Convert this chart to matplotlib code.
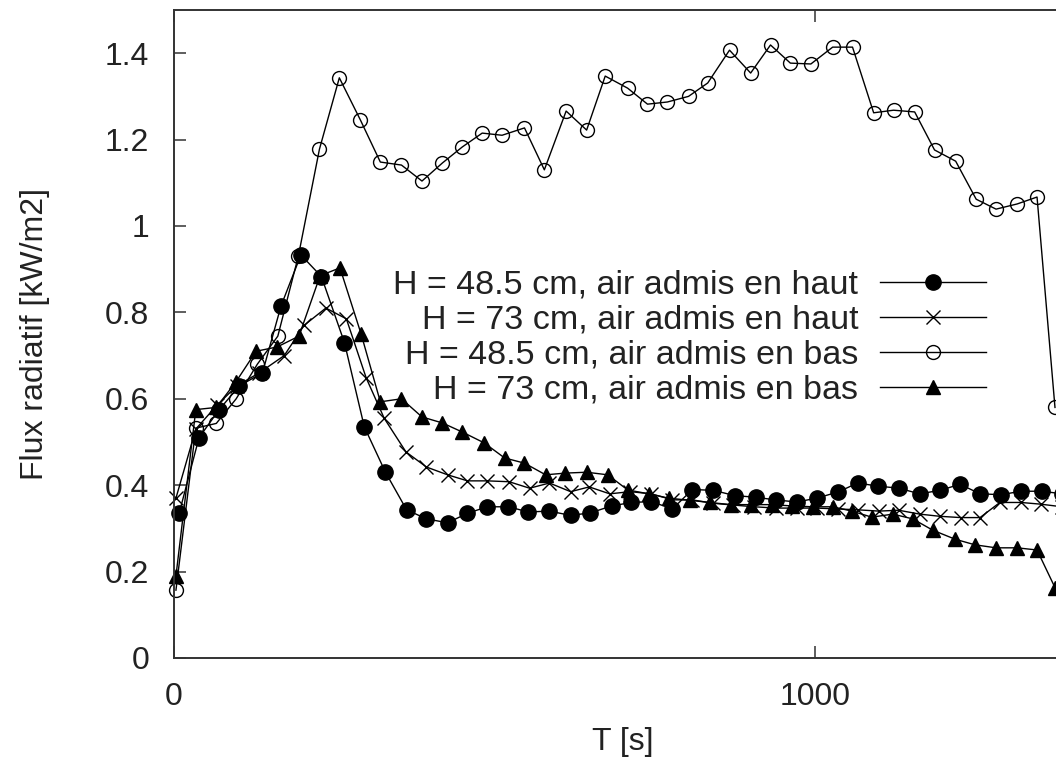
import matplotlib
matplotlib.use('Agg')
import matplotlib.pyplot as plt

plt.rcParams['font.family'] = ['Liberation Sans', 'DejaVu Sans']

# H = 48.5 cm, air admis en haut
t_h48 = [8, 39, 70, 102, 138, 167, 198, 230, 266, 297, 330, 363, 394, 427, 458,
         489, 522, 553, 586, 619, 650, 683, 714, 745, 778, 809, 842, 875, 908, 939,
         972, 1003, 1036, 1067, 1098, 1131, 1164, 1195, 1227, 1258, 1291, 1322, 1355, 1386]
q_h48 = [0.335, 0.51, 0.574, 0.63, 0.66, 0.815, 0.933, 0.883, 0.73, 0.535, 0.43, 0.343,
         0.322, 0.313, 0.335, 0.35, 0.35, 0.338, 0.34, 0.33, 0.336, 0.352, 0.36, 0.362,
         0.345, 0.39, 0.388, 0.376, 0.372, 0.366, 0.361, 0.37, 0.384, 0.405, 0.398, 0.393,
         0.38, 0.388, 0.402, 0.38, 0.378, 0.386, 0.386, 0.38]

# H = 73 cm, air admis en haut
t_h73 = [3, 34, 67, 98, 133, 172, 203, 237, 269, 300, 328, 362, 394, 427, 458,
         489, 523, 555, 586, 619, 648, 680, 712, 745, 778, 809, 842, 873, 906, 939,
         972, 1003, 1036, 1067, 1100, 1131, 1164, 1195, 1228, 1258, 1289, 1322, 1353, 1386]
q_h73 = [0.37, 0.53, 0.585, 0.63, 0.66, 0.70, 0.77, 0.81, 0.785, 0.648, 0.555, 0.477,
         0.442, 0.424, 0.41, 0.41, 0.408, 0.393, 0.405, 0.385, 0.396, 0.38, 0.385, 0.38,
         0.366, 0.366, 0.358, 0.354, 0.35, 0.347, 0.347, 0.347, 0.345, 0.343, 0.34, 0.342,
         0.333, 0.328, 0.325, 0.325, 0.36, 0.36, 0.356, 0.35]

# H = 48.5 cm, air admis en bas
t_b48 = [3, 34, 66, 97, 130, 162, 194, 227, 258, 291, 322, 355, 387, 419, 450,
         481, 512, 547, 578, 612, 644, 673, 708, 739, 770, 803, 833, 867, 900, 931,
         962, 994, 1028, 1059, 1092, 1123, 1156, 1187, 1220, 1252, 1283, 1316, 1347, 1375]
q_b48 = [0.157, 0.532, 0.543, 0.60, 0.68, 0.745, 0.93, 1.178, 1.343, 1.245, 1.148, 1.141,
         1.104, 1.146, 1.183, 1.215, 1.21, 1.227, 1.13, 1.266, 1.222, 1.347, 1.319, 1.282,
         1.287, 1.30, 1.331, 1.407, 1.354, 1.419, 1.377, 1.375, 1.414, 1.414, 1.262, 1.268,
         1.264, 1.176, 1.15, 1.062, 1.039, 1.051, 1.067, 0.58]

# H = 73 cm, air admis en bas
t_b73 = [3, 34, 66, 97, 128, 161, 195, 228, 259, 292, 322, 355, 387, 419, 450,
         484, 516, 547, 580, 611, 644, 677, 708, 741, 772, 805, 836, 869, 900, 933,
         964, 997, 1028, 1058, 1089, 1122, 1153, 1184, 1219, 1250, 1283, 1316, 1347, 1375]
q_b73 = [0.19, 0.575, 0.58, 0.64, 0.71, 0.72, 0.745, 0.885, 0.903, 0.75, 0.593, 0.60,
         0.558, 0.544, 0.523, 0.498, 0.463, 0.451, 0.424, 0.428, 0.43, 0.424, 0.389, 0.38,
         0.37, 0.365, 0.36, 0.355, 0.355, 0.355, 0.352, 0.35, 0.35, 0.34, 0.326, 0.333,
         0.322, 0.296, 0.275, 0.262, 0.255, 0.255, 0.25, 0.163]

labels = ['H = 48.5 cm, air admis en haut', 'H = 73 cm, air admis en haut',
          'H = 48.5 cm, air admis en bas', 'H = 73 cm, air admis en bas']
yticks = [0, 0.2, 0.4, 0.6, 0.8, 1.0, 1.2, 1.4]
ytick_labels = ['0', '0.2', '0.4', '0.6', '0.8', '1', '1.2', '1.4']
xticks = [0, 1000]

fig = plt.figure(figsize=(10.56, 7.62), dpi=100)
ax = fig.add_axes([0.1648, 0.1365, 0.8494, 0.8504])

style = dict(color='black', lw=1.0, clip_on=False)
ax.plot(t_h48, q_h48, marker='o', ms=11, mfc='black', mec='black', label=labels[0], **style)
ax.plot(t_h73, q_h73, marker='x', ms=10, mew=1.0, mec='black', label=labels[1], **style)
ax.plot(t_b48, q_b48, marker='o', ms=10, mfc='none', mec='black', mew=1.0, label=labels[2], **style)
ax.plot(t_b73, q_b73, marker='^', ms=10, mfc='black', mec='black', label=labels[3], **style)

ax.set_xlim(0, 1400)
ax.set_ylim(0, 1.5)
ax.set_xticks(xticks)
ax.set_yticks(yticks, ytick_labels)

for s in ax.spines.values():
    s.set_linewidth(1.4)
    s.set_color('#333333')
ax.tick_params(direction='in', length=8.5, width=1.1, color='#333333',
               top=True, right=True, labelsize=23, labelcolor='#222222')
ax.tick_params(axis='y', pad=18)
ax.tick_params(axis='x', pad=17)

ax.set_xlabel('T [s]', fontsize=23, color='#222222', labelpad=11)
ax.set_ylabel('Flux radiatif [kW/m2]', fontsize=23, color='#222222', labelpad=39)

leg = ax.legend(loc='center right', bbox_to_anchor=(0.905, 0.4945), frameon=False,
                markerfirst=False, fontsize=24.5, handlelength=3.1, handletextpad=0.65,
                labelspacing=0.12, borderpad=0, borderaxespad=0)
for txt in leg.get_texts():
    txt.set_color('#222222')

fig.savefig('out.png', dpi=100)
